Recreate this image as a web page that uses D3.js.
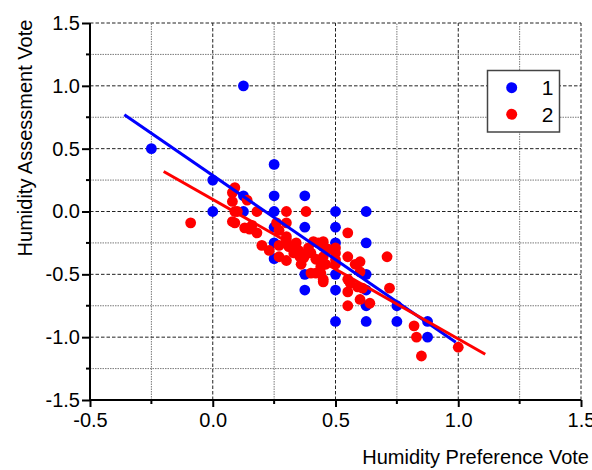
<!DOCTYPE html>
<html>
<head>
<meta charset="utf-8">
<script src="https://cdn.jsdelivr.net/npm/d3@7"></script>
<style>
  html, body { margin: 0; padding: 0; background: #fff; }
  svg { display: block; font-family: "Liberation Sans", Arial, sans-serif; }
</style>
</head>
<body>
<svg id="chart" width="592" height="470"></svg>
<script>
// Group 1: preference vote (x) and assessment vote (y)
const group1X = [-0.25, 0.0, 0.0, 0.125, 0.125, 0.125,
  0.25, 0.25, 0.25, 0.25, 0.25, 0.25,
  0.375, 0.375, 0.375, 0.375,
  0.5, 0.5, 0.5, 0.5, 0.5, 0.5,
  0.625, 0.625, 0.625, 0.625, 0.625, 0.625,
  0.75, 0.75, 0.875, 0.875];
const group1Y = [0.5, 0.25, 0.0, 1.0, 0.125, 0.0,
  0.375, 0.125, 0.0, -0.125, -0.25, -0.375,
  0.125, -0.125, -0.5, -0.625,
  0.0, -0.125, -0.25, -0.5, -0.625, -0.875,
  0.0, -0.25, -0.5, -0.625, -0.75, -0.875,
  -0.75, -0.875, -0.875, -1.0];

// Group 2: preference vote (x) and assessment vote (y)
const group2X = [-0.09, 0.09, 0.08, 0.08, 0.14, 0.09, 0.10, 0.18, 0.08, 0.09,
  0.13, 0.15, 0.16, 0.18, 0.20, 0.23, 0.30, 0.38, 0.26, 0.30,
  0.27, 0.27, 0.30, 0.31, 0.27, 0.30, 0.32, 0.33, 0.35, 0.355,
  0.36, 0.34, 0.375, 0.40, 0.42, 0.44, 0.45, 0.44, 0.45, 0.41,
  0.43, 0.45, 0.45, 0.37, 0.55, 0.50, 0.50, 0.50, 0.50, 0.55,
  0.71, 0.58, 0.60, 0.60, 0.55, 0.56, 0.59, 0.61, 0.55, 0.60,
  0.64, 0.55, 0.72, 0.82, 0.83, 0.85, 1.00, 0.47, 0.39, 0.40,
  0.42, 0.46, 0.30, 0.45];
const group2Y = [-0.09, 0.19, 0.15, 0.08, 0.09, 0.0, 0.0, 0.0, -0.08, -0.09,
  -0.13, -0.14, -0.11, -0.17, -0.27, -0.31, 0.0, 0.0, -0.09, -0.09,
  -0.15, -0.27, -0.23, -0.28, -0.36, -0.39, -0.28, -0.33, -0.31, -0.36,
  -0.42, -0.25, -0.35, -0.49, -0.49, -0.49, -0.54, -0.44, -0.36, -0.24,
  -0.25, -0.24, -0.28, -0.37, -0.17, -0.29, -0.33, -0.385, -0.42, -0.36,
  -0.36, -0.42, -0.40, -0.48, -0.54, -0.57, -0.60, -0.61, -0.64, -0.70,
  -0.73, -0.75, -0.61, -0.91, -1.0, -1.15, -1.08, -0.30, -0.29, -0.33,
  -0.38, -0.42, -0.20, -0.56];

// Linear fits for each group: y = intercept + slope * x over [start, end]
const fitIntercept = [0.287, 0.096];
const fitSlope = [-1.34, -1.11];
const fitStart = [-0.36, -0.20];
const fitEnd = [0.99, 1.11];

const seriesNames = ["1", "2"];
const seriesColors = ["#0000ff", "#ff0000"];

const xTicks = [-0.5, 0.0, 0.5, 1.0, 1.5];
const yTicks = [-1.5, -1.0, -0.5, 0.0, 0.5, 1.0, 1.5];
const xMinorTicks = [-0.25, 0.25, 0.75, 1.25];
const yMinorTicks = [-1.25, -0.75, -0.25, 0.25, 0.75, 1.25];

const svg = d3.select("#chart");
const x = d3.scaleLinear().domain([-0.5, 1.5]).range([90, 581]);
const y = d3.scaleLinear().domain([-1.5, 1.5]).range([400, 23]);

// Grid: dotted minor lines, dashed major lines
const grid = svg.append("g");
grid.selectAll(".vminor").data(xMinorTicks).join("line")
  .attr("x1", d => x(d)).attr("x2", d => x(d))
  .attr("y1", y(-1.5)).attr("y2", y(1.5))
  .attr("stroke", "#7a7a7a").attr("stroke-width", 1).attr("stroke-dasharray", "1.5,1");
grid.selectAll(".hminor").data(yMinorTicks).join("line")
  .attr("x1", x(-0.5)).attr("x2", x(1.5))
  .attr("y1", d => y(d)).attr("y2", d => y(d))
  .attr("stroke", "#7a7a7a").attr("stroke-width", 1).attr("stroke-dasharray", "1.5,1");
grid.selectAll(".vmajor").data(xTicks.slice(1)).join("line")
  .attr("x1", d => x(d)).attr("x2", d => x(d))
  .attr("y1", y(-1.5)).attr("y2", y(1.5))
  .attr("stroke", "#222").attr("stroke-width", 1).attr("stroke-dasharray", "3.5,2");
grid.selectAll(".hmajor").data(yTicks.slice(1)).join("line")
  .attr("x1", x(-0.5)).attr("x2", x(1.5))
  .attr("y1", d => y(d)).attr("y2", d => y(d))
  .attr("stroke", "#222").attr("stroke-width", 1).attr("stroke-dasharray", "3.5,2");

// Axes (plain hyphen for negative labels)
const fmt = d => d3.format(".1f")(d).replace("\u2212", "-");
const xAxis = svg.append("g").attr("transform", `translate(0,${y(-1.5)})`)
  .call(d3.axisBottom(x).tickValues(xTicks).tickFormat(fmt).tickSize(7).tickPadding(6));
xAxis.append("g").selectAll("line").data(xMinorTicks).join("line")
  .attr("x1", d => x(d)).attr("x2", d => x(d)).attr("y1", 0).attr("y2", 4)
  .attr("stroke", "#000").attr("stroke-width", 2);
const yAxis = svg.append("g").attr("transform", `translate(${x(-0.5)},0)`)
  .call(d3.axisLeft(y).tickValues(yTicks).tickFormat(fmt).tickSize(8).tickPadding(2));
yAxis.append("g").selectAll("line").data(yMinorTicks).join("line")
  .attr("x1", 0).attr("x2", -4).attr("y1", d => y(d)).attr("y2", d => y(d))
  .attr("stroke", "#000").attr("stroke-width", 2);

[xAxis, yAxis].forEach(g => {
  g.select(".domain").attr("stroke", "#000").attr("stroke-width", 2);
  g.selectAll(".tick line").attr("stroke", "#000").attr("stroke-width", 2);
  g.selectAll(".tick text").attr("fill", "#000")
    .style("font-family", "'Liberation Sans', Arial, sans-serif").style("font-size", "20px");
});
xAxis.select(".domain").attr("d", `M${x(-0.5)},0H${x(1.5)}`);
yAxis.select(".domain").attr("d", `M0,${y(-1.5)}V${y(1.5)}`);

// Axis titles
svg.append("text").attr("x", 589).attr("y", 464).attr("text-anchor", "end")
  .style("font-size", "20px").attr("fill", "#000").text("Humidity Preference Vote");
svg.append("text").attr("transform", "translate(32,138) rotate(-90)")
  .attr("text-anchor", "middle").style("font-size", "20px").attr("fill", "#000")
  .text("Humidity Assessment Vote");

// Scatter points
const pts1 = group1X.map((v, i) => [v, group1Y[i]]);
const pts2 = group2X.map((v, i) => [v, group2Y[i]]);
svg.append("g").selectAll("circle").data(pts1).join("circle")
  .attr("cx", d => x(d[0])).attr("cy", d => y(d[1])).attr("r", 5.4)
  .attr("fill", seriesColors[0]);
svg.append("g").selectAll("circle").data(pts2).join("circle")
  .attr("cx", d => x(d[0])).attr("cy", d => y(d[1])).attr("r", 5.4)
  .attr("fill", seriesColors[1]);

// Fit lines
const line = d3.line().x(d => x(d[0])).y(d => y(d[1]));
fitIntercept.forEach((a, i) => {
  const b = fitSlope[i];
  const ends = [fitStart[i], fitEnd[i]].map(v => [v, a + b * v]);
  svg.append("path").attr("d", line(ends)).attr("fill", "none")
    .attr("stroke", seriesColors[i]).attr("stroke-width", 3);
});

// Legend
const legend = svg.append("g");
legend.append("rect").attr("x", 487.5).attr("y", 70.5).attr("width", 72).attr("height", 61.5)
  .attr("fill", "#fff").attr("stroke", "#444").attr("stroke-width", 1.5);
seriesNames.forEach((name, i) => {
  const cy = 87.7 + i * 26.6;
  legend.append("circle").attr("cx", 511.7).attr("cy", cy).attr("r", 5.5).attr("fill", seriesColors[i]);
  legend.append("text").attr("x", 553.5).attr("y", cy + 7.5).attr("text-anchor", "end")
    .style("font-size", "21px").attr("fill", "#000").text(name);
});
</script>
</body>
</html>
